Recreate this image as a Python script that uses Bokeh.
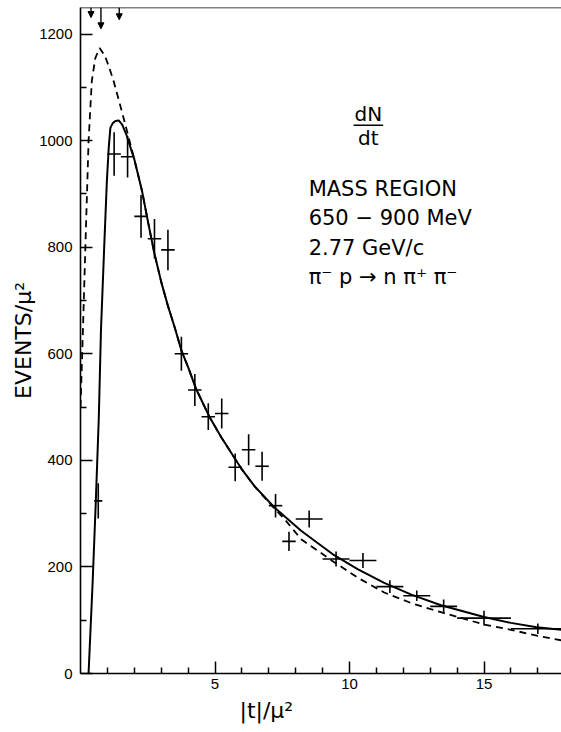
from bokeh.plotting import figure
from bokeh.models import (Range1d, FixedTicker, Span, Label, Arrow, NormalHead,
                          ColumnDataSource, Title)
from bokeh.embed import file_html
from bokeh.resources import INLINE

# ---------------- data ----------------
t_points = [0.66, 1.25, 1.75, 2.25, 2.75, 3.25, 3.75, 4.25, 4.75, 5.25, 5.75,
            6.25, 6.75, 7.25, 7.75, 8.5, 9.5, 10.5, 11.5, 12.5, 13.5, 15.0, 17.0]
events = [324, 975, 970, 858, 816, 795, 600, 532, 482, 488, 387,
          420, 389, 315, 248, 290, 215, 212, 163, 146, 126, 104, 84]
events_err = [33, 41, 39, 40, 37, 38, 32, 30, 25, 28, 26,
              29, 27, 22, 18, 16, 14, 14, 12, 10, 13, 14, 10]
t_halfwidth = [0.15, 0.25, 0.25, 0.25, 0.25, 0.25, 0.25, 0.25, 0.25, 0.25, 0.25,
               0.25, 0.25, 0.25, 0.25, 0.5, 0.5, 0.5, 0.5, 0.5, 0.5, 1.0, 1.0]

fit_t = [0.30, 0.45, 0.57, 0.68, 0.76, 0.88, 0.98, 1.05, 1.11, 1.2, 1.3, 1.42,
         1.55, 1.7, 2.0, 2.29, 2.5, 2.74, 3.0, 3.25, 3.5, 3.76, 4.0, 4.29, 4.79,
         5.25, 5.72, 6.0, 6.46, 7.2, 8.2, 9.43, 10.3, 11.29, 12.3, 13.4, 15.0,
         16.0, 16.96, 17.9]
fit_events = [0, 170, 324, 480, 643, 799, 924, 987, 1024, 1033, 1037, 1038,
              1030, 1012, 965, 905, 850, 790, 735, 690, 650, 605, 575, 535, 482,
              442, 405, 383, 352, 312, 268, 222, 196, 170, 148, 128, 106,
              95, 87, 82]

dash_t = [0.0, 0.09, 0.18, 0.30, 0.42, 0.55, 0.71, 0.9, 1.05, 1.23, 1.5, 1.73,
          2.0, 2.29, 2.5, 2.74, 3.0, 3.25, 3.5, 3.76, 4.0, 4.29, 4.79, 5.25,
          5.72, 6.0, 6.46, 7.2, 7.58, 8.2, 9.43, 10.3, 11.29, 12.3, 13.4, 15.0,
          16.0, 16.96, 17.9]
dash_events = [500, 643, 799, 999, 1112, 1155, 1174, 1160, 1140, 1112, 1062, 1018,
               965, 905, 850, 790, 735, 690, 650, 605, 575, 535, 482, 442,
               405, 383, 352, 310, 290, 252, 209, 180, 152, 132, 115, 92,
               82, 71, 62]

offscale_t = [0.39, 0.76, 1.44]
offscale_tip = [1231, 1210, 1227]

y_ticks = [0, 200, 400, 600, 800, 1000, 1200]
y_minor = [100, 300, 500, 700, 900, 1100]
x_ticks = [5, 10, 15]
x_minor = [1, 2, 3, 4, 6, 7, 8, 9, 11, 12, 13, 14, 16, 17]

info_lines = ["MASS REGION", "650 \u2212 900 MeV", "2.77 GeV/c",
              "\u03c0\u207b p \u2192 n \u03c0\u207a \u03c0\u207b"]
frac_top = "dN"
frac_bottom = "dt"
x_title = "|t|/\u03bc\u00b2"
y_title = "EVENTS/\u03bc\u00b2"

FONT = "DejaVu Sans"
TICK_FONT = "Liberation Sans"
X_MAX, Y_MAX = 17.88, 1250

# ---------------- figure ----------------
p = figure(width=561, height=732, x_range=Range1d(0, X_MAX), y_range=Range1d(0, Y_MAX),
           output_backend="svg", toolbar_location=None,
           min_border_left=80, min_border_right=0, min_border_top=7, min_border_bottom=59)
p.title.visible = False
p.outline_line_color = None
p.xgrid.visible = False
p.ygrid.visible = False
p.background_fill_color = "white"
p.border_fill_color = "white"

for ax in (p.xaxis[0], p.yaxis[0]):
    ax.axis_line_width = 1.6
    ax.axis_line_color = "black"
    ax.major_tick_in = 12
    ax.major_tick_out = 0
    ax.minor_tick_in = 6
    ax.minor_tick_out = 0
    ax.major_tick_line_width = 1.5
    ax.minor_tick_line_width = 1.5
    ax.major_tick_line_color = "black"
    ax.minor_tick_line_color = "black"
    ax.major_label_text_font = TICK_FONT
    ax.major_label_text_font_size = "15px"
    ax.major_label_text_color = "black"

p.xaxis.ticker = FixedTicker(ticks=x_ticks, minor_ticks=x_minor)
p.yaxis.ticker = FixedTicker(ticks=y_ticks, minor_ticks=y_minor)
p.xaxis.major_label_standoff = 5
p.yaxis.major_label_standoff = 8

p.yaxis.axis_label = y_title
p.yaxis.axis_label_text_font = FONT
p.yaxis.axis_label_text_font_size = "22px"
p.yaxis.axis_label_text_font_style = "normal"
p.yaxis.axis_label_text_color = "black"
p.yaxis.axis_label_standoff = 0

# top frame line
p.add_layout(Span(location=Y_MAX, dimension="width", line_color="black", line_width=1.6))

# x-axis title (offset left of centre as in the original)
p.add_layout(Title(text=x_title, align="left", offset=159, standoff=8,
                   text_font=FONT, text_font_size="22px", text_font_style="normal",
                   text_color="black"), "below")

# ---------------- curves ----------------
p.line(dash_t, dash_events, line_color="black", line_width=1.8, line_dash="7 5")
p.line(fit_t, fit_events, line_color="black", line_width=2)

# ---------------- data points with error bars ----------------
pts = ColumnDataSource(dict(
    t=t_points, e=events,
    lo=[e - d for e, d in zip(events, events_err)],
    hi=[e + d for e, d in zip(events, events_err)],
    left=[t - w for t, w in zip(t_points, t_halfwidth)],
    right=[t + w for t, w in zip(t_points, t_halfwidth)],
))
p.segment(x0="t", y0="lo", x1="t", y1="hi", source=pts, line_color="black", line_width=1.6)
p.segment(x0="left", y0="e", x1="right", y1="e", source=pts, line_color="black", line_width=1.6)

# ---------------- off-scale arrows ----------------
arr = ColumnDataSource(dict(x=offscale_t, y0=[Y_MAX] * len(offscale_t), y1=offscale_tip))
p.add_layout(Arrow(end=NormalHead(size=6, fill_color="black", line_color="black"),
                   x_start="x", y_start="y0", x_end="x", y_end="y1", source=arr,
                   line_color="black", line_width=1.4))

# ---------------- annotation ----------------
frac_x = 10.7
p.add_layout(Label(x=frac_x, y=1050, text=frac_top, text_align="center", text_baseline="middle",
                   text_font=FONT, text_font_size="20px", text_color="black"))
p.add_layout(Label(x=frac_x, y=1006, text=frac_bottom, text_align="center", text_baseline="middle",
                   text_font=FONT, text_font_size="20px", text_color="black"))
p.segment(x0=[frac_x - 0.55], y0=[1029], x1=[frac_x + 0.55], y1=[1029],
          line_color="black", line_width=1.5)

info_x = 8.48
info_y0 = 910
info_step = 55.4
for i, line in enumerate(info_lines):
    p.add_layout(Label(x=info_x, y=info_y0 - i * info_step, text=line,
                       text_align="left", text_baseline="middle",
                       text_font=FONT, text_font_size="21px", text_color="black"))

open("out.html", "w").write(file_html(p, INLINE))
